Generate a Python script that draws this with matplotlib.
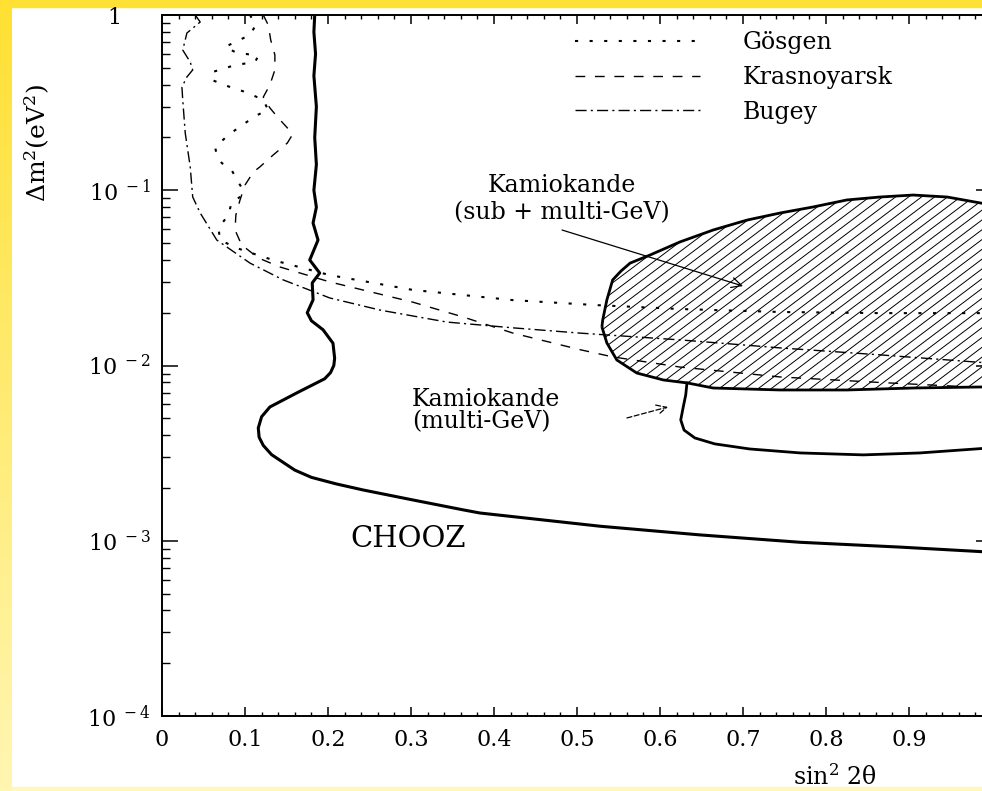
import numpy as np
import matplotlib.pyplot as plt
from matplotlib.patches import Polygon, Rectangle
from matplotlib.collections import LineCollection
from matplotlib.colors import LinearSegmentedColormap
from matplotlib.ticker import MultipleLocator, LogLocator, NullFormatter

plt.rcParams['font.family'] = ['DejaVu Serif']
plt.rcParams['mathtext.fontset'] = 'dejavuserif'

# CHOOZ exclusion contour (sin^2 2theta, delta m^2 in eV^2)
chooz_s2 = [0.184, 0.183, 0.185, 0.183, 0.186, 0.184, 0.186, 0.183, 0.186, 0.182,
            0.188, 0.178, 0.190, 0.181, 0.182, 0.175, 0.180, 0.194, 0.206, 0.208,
            0.207, 0.203, 0.196, 0.163, 0.130, 0.120, 0.116, 0.117, 0.122, 0.132,
            0.146, 0.160, 0.180, 0.210, 0.242, 0.302, 0.363, 0.383, 0.528, 0.648,
            0.769, 0.889, 1.0]
chooz_dm2 = [1.0, 0.8, 0.6, 0.45, 0.3, 0.2, 0.14, 0.1, 0.08, 0.065,
             0.052, 0.040, 0.0337, 0.0296, 0.0237, 0.0200, 0.018, 0.0160, 0.0134, 0.0110,
             0.0100, 0.0091, 0.0084, 0.0070, 0.0058, 0.0051, 0.0044, 0.0039, 0.0035, 0.0031,
             0.0028, 0.00253, 0.0023, 0.00211, 0.00195, 0.00171, 0.00150, 0.00144, 0.00121, 0.00108,
             0.00098, 0.00092, 0.00086]

# reactor limits
gosgen_s2 = [0.106, 0.113, 0.106, 0.088, 0.076, 0.088, 0.116, 0.112, 0.088, 0.061,
             0.060, 0.082, 0.104, 0.122, 0.128, 0.115, 0.102, 0.092, 0.080, 0.064,
             0.066, 0.072, 0.084, 0.092, 0.098, 0.094, 0.084, 0.080, 0.068, 0.070,
             0.090, 0.122, 0.142, 0.202, 0.302, 0.423, 0.524, 0.624, 0.745, 0.865, 1.0]
gosgen_dm2 = [1.0, 0.877, 0.769, 0.701, 0.657, 0.615, 0.583, 0.539, 0.518, 0.473,
              0.426, 0.388, 0.359, 0.327, 0.287, 0.269, 0.245, 0.227, 0.207, 0.176,
              0.159, 0.143, 0.130, 0.111, 0.100, 0.0915, 0.0857, 0.0722, 0.0609, 0.052,
              0.0468, 0.0416, 0.039, 0.0328, 0.027, 0.0236, 0.0221, 0.021, 0.0202, 0.0199, 0.0199]

krasn_s2 = [0.122, 0.128, 0.131, 0.136, 0.136, 0.130, 0.122, 0.130, 0.139, 0.151,
            0.157, 0.151, 0.134, 0.118, 0.110, 0.100, 0.094, 0.089, 0.088, 0.096,
            0.116, 0.142, 0.202, 0.302, 0.363, 0.423, 0.504, 0.543, 0.624, 0.745, 0.865, 1.0]
krasn_dm2 = [1.0, 0.877, 0.72, 0.591, 0.486, 0.399, 0.34, 0.295, 0.262, 0.227,
             0.207, 0.186, 0.159, 0.136, 0.127, 0.107, 0.088, 0.0722, 0.0593, 0.0487,
             0.0411, 0.0365, 0.030, 0.023, 0.0189, 0.0153, 0.0123, 0.0112, 0.0098, 0.0086, 0.0080, 0.00744]

bugey_s2 = [0.040, 0.046, 0.030, 0.025, 0.034, 0.037, 0.030, 0.024, 0.025, 0.028,
            0.034, 0.037, 0.046, 0.066, 0.106, 0.146, 0.187, 0.202, 0.263, 0.343,
            0.423, 0.504, 0.624, 0.745, 0.865, 1.0]
bugey_dm2 = [1.0, 0.912, 0.789, 0.631, 0.539, 0.486, 0.443, 0.388, 0.327, 0.212,
             0.136, 0.0915, 0.0742, 0.0520, 0.0384, 0.0308, 0.0259, 0.0243, 0.0207, 0.0177,
             0.0164, 0.0153, 0.0140, 0.0126, 0.0115, 0.0103]

# Kamiokande allowed regions
kam_all_s2 = [0.530, 0.531, 0.536, 0.543, 0.553, 0.564, 0.588, 0.624, 0.664, 0.705,
              0.745, 0.784, 0.825, 0.865, 0.905, 0.946, 0.986, 1.0, 1.0, 0.986,
              0.905, 0.825, 0.745, 0.664, 0.633, 0.604, 0.572, 0.548, 0.536]
kam_all_dm2 = [0.0166, 0.0182, 0.0237, 0.0308, 0.0346, 0.0384, 0.0427, 0.0507, 0.0593, 0.0676,
               0.0742, 0.0802, 0.0880, 0.0915, 0.0939, 0.0915, 0.0846, 0.0824, 0.00754, 0.00754,
               0.00744, 0.00725, 0.00725, 0.00744, 0.00795, 0.00827, 0.00906, 0.01075, 0.01344]

kam_multi_s2 = [0.6325, 0.631, 0.628, 0.625, 0.629, 0.642, 0.666, 0.708, 0.769, 0.845, 0.913, 0.988, 1.0]
kam_multi_dm2 = [0.00795, 0.00679, 0.0058, 0.00489, 0.00428, 0.00386, 0.00357, 0.00334,
                 0.00317, 0.00309, 0.00317, 0.00336, 0.00338]

x_ticks = [0, 0.1, 0.2, 0.3, 0.4, 0.5, 0.6, 0.7, 0.8, 0.9, 1.0]
x_labels = ['0', '0.1', '0.2', '0.3', '0.4', '0.5', '0.6', '0.7', '0.8', '0.9', '']
y_ticks = [1e-4, 1e-3, 1e-2, 1e-1, 1]
y_labels = [r'$\mathregular{10^{\ -4}}$', r'$\mathregular{10^{\ -3}}$',
            r'$\mathregular{10^{\ -2}}$', r'$\mathregular{10^{\ -1}}$', '1    ']

fig = plt.figure(figsize=(9.82, 7.91), dpi=100)

# yellow frame
fig.add_artist(Rectangle((0, 1 - 7 / 791), 1, 7 / 791, transform=fig.transFigure,
                         color='#FFE135', zorder=0))
fig.add_artist(Rectangle((0, 0), 1, 4 / 791, transform=fig.transFigure,
                         color='#FFF8B8', zorder=0))
bg = fig.add_axes([0, 0, 12 / 982, 1])
cmap = LinearSegmentedColormap.from_list('yel', ['#FFF6B2', '#FFE033'])
bg.imshow(np.linspace(1, 0, 200).reshape(-1, 1), cmap=cmap, aspect='auto', vmin=0, vmax=1)
bg.axis('off')

ax = fig.add_axes([162 / 982, 1 - 716 / 791, 830 / 982, 701 / 791])
ax.set_yscale('log')
ax.set_xlim(0, 1)
ax.set_ylim(1e-4, 1)

l_g, = ax.plot(gosgen_s2, gosgen_dm2, color='black', lw=1.5, linestyle=(0, (1.5, 5.5)),
               dash_capstyle='butt')
l_k, = ax.plot(krasn_s2, krasn_dm2, color='black', lw=1.0, linestyle=(0, (7, 7)))
l_b, = ax.plot(bugey_s2, bugey_dm2, color='black', lw=1.0, linestyle=(0, (8, 3, 1.5, 3)))
ax.plot(chooz_s2, chooz_dm2, color='black', lw=2.2)

kam_patch = Polygon(np.column_stack([kam_all_s2, kam_all_dm2]), closed=True,
                    facecolor='none', edgecolor='black', lw=2.0, zorder=3)
ax.add_patch(kam_patch)
ax.plot(kam_multi_s2, kam_multi_dm2, color='black', lw=2.0)

# hatching of the combined region
ang = np.deg2rad(37)
slope = np.tan(ang) * 830 / 701
step = 13 / 830
segs = [[(a0, 0), (a0 + 1 / slope, 1)] for a0 in np.arange(-1 / slope, 1 + step, step)]
hatch = LineCollection(segs, transform=ax.transAxes, colors='black', linewidths=0.7)
hatch.set_clip_path(kam_patch)
ax.add_collection(hatch)

# ticks
ax.set_xticks(x_ticks)
ax.set_xticklabels(x_labels)
ax.xaxis.set_minor_locator(MultipleLocator(0.02))
ax.set_yticks(y_ticks)
ax.set_yticklabels(y_labels)
ax.yaxis.set_minor_locator(LogLocator(base=10, subs=np.arange(2, 10)))
ax.yaxis.set_minor_formatter(NullFormatter())
ax.tick_params(axis='x', which='major', direction='in', length=6.5, width=1.1,
               top=True, labelsize=16, pad=9)
ax.tick_params(axis='x', which='minor', direction='in', length=3.2, width=1.0, top=True)
ax.tick_params(axis='y', which='major', direction='in', length=11.5, width=1.1,
               right=True, labelsize=16, pad=8)
ax.tick_params(axis='y', which='minor', direction='in', length=5.8, width=1.0, right=True)
for sp in ax.spines.values():
    sp.set_linewidth(1.4)

# legend
ax.legend([l_g, l_k, l_b], ['Gösgen', 'Krasnoyarsk', 'Bugey'], loc='upper left',
          bbox_to_anchor=(575 / 982, 1 - 31 / 791), bbox_transform=fig.transFigure,
          frameon=False, fontsize=17, handlelength=5.3, handletextpad=1.8,
          labelspacing=0.5, borderpad=0, borderaxespad=0)

# annotations
ax.text(0.482, 0.0891, 'Kamiokande\n(sub + multi-GeV)', ha='center', va='center',
        fontsize=17, linespacing=1.2)
ax.annotate('', xy=(0.700, 0.0284), xytext=(0.482, 0.0593),
            arrowprops=dict(arrowstyle='->', lw=0.9, shrinkA=0, shrinkB=0, mutation_scale=18))
ax.text(0.3012, 0.0055, 'Kamiokande\n(multi-GeV)', ha='left', va='center',
        fontsize=17, linespacing=0.95)
ax.annotate('', xy=(0.6096, 0.0058), xytext=(0.5602, 0.00502),
            arrowprops=dict(arrowstyle='->', lw=0.9, linestyle=(0, (4, 2)), shrinkA=0,
                            shrinkB=0, mutation_scale=18))
ax.text(0.2265, 0.00102, 'CHOOZ', ha='left', va='center', fontsize=21)

fig.text(37 / 982, 1 - 143 / 791, r'$\Delta$m$^2$(eV$^2$)', rotation=90,
         ha='center', va='center', fontsize=18)
fig.text(835 / 982, 1 - 777 / 791, r'sin$^2$ 2θ', ha='center', va='center', fontsize=17)

fig.savefig('out.png', dpi=100)
